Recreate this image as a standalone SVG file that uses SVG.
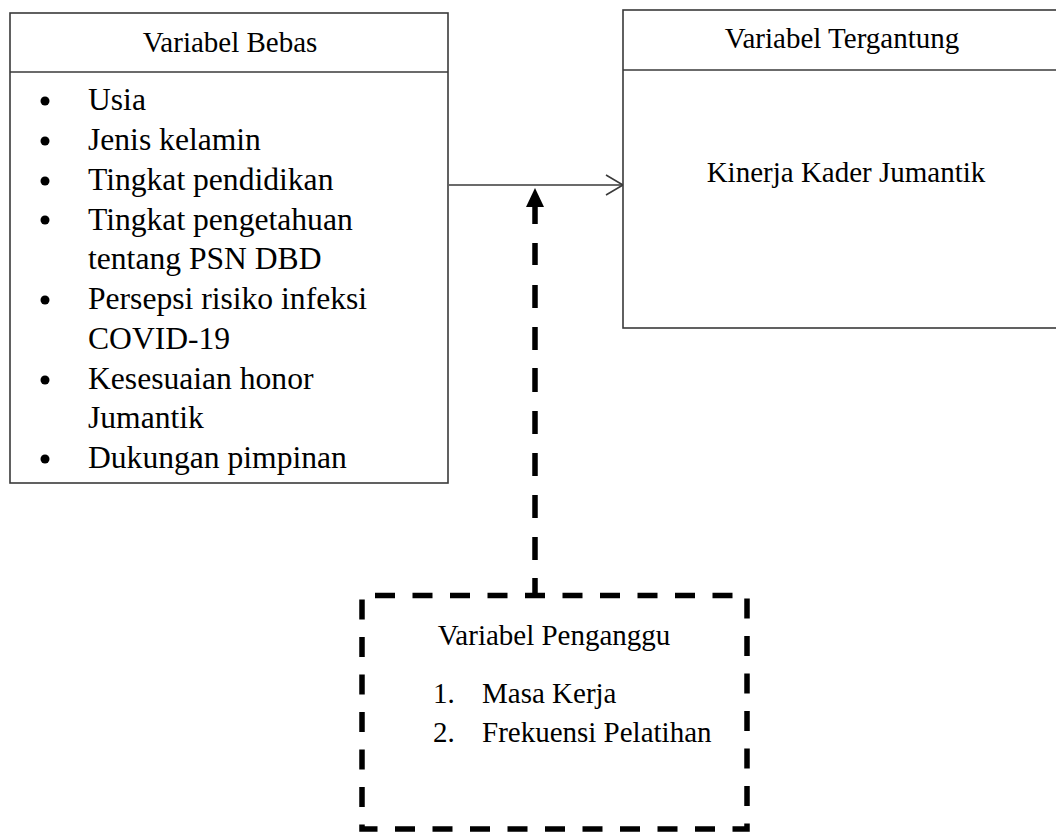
<svg xmlns="http://www.w3.org/2000/svg" width="1056" height="834" viewBox="0 0 1056 834">
<style>
.box{fill:#fff;stroke:#3a3a3a;stroke-width:1.6}
.div{stroke:#3a3a3a;stroke-width:1.6}
.t{font-family:"Liberation Serif","Times New Roman",serif;fill:#000}
.h{font-size:29px}
.i{font-size:31.6px}
.dash{fill:none;stroke:#000;stroke-width:5.5}
</style>
<rect width="1056" height="834" fill="#fff"/>
<g id="connectors">
  <path d="M449 185 H623" fill="none" stroke="#3a3a3a" stroke-width="1.6"/>
  <path d="M606 175 L623 185 L606 195" fill="none" stroke="#3a3a3a" stroke-width="1.6"/>
  <path class="dash" d="M535 207V224 M535 243V265 M535 285V308 M535 327V350 M535 368V392 M535 411V434 M535 453V476 M535 495V518 M535 537V560 M535 578V597"/>
  <polygon points="535,188 544,207 526,207" fill="#000"/>
</g>
<g id="bebas">
  <rect class="box" x="10" y="13" width="438" height="470"/>
  <line class="div" x1="10" y1="72" x2="448" y2="72"/>
  <text class="t h" x="230" y="52" text-anchor="middle">Variabel Bebas</text>
  <g fill="#000">
    <circle cx="45" cy="101" r="4.5"/>
    <circle cx="45" cy="141" r="4.5"/>
    <circle cx="45" cy="181" r="4.5"/>
    <circle cx="45" cy="220" r="4.5"/>
    <circle cx="45" cy="300" r="4.5"/>
    <circle cx="45" cy="380" r="4.5"/>
    <circle cx="45" cy="459" r="4.5"/>
  </g>
  <text class="t i" x="88" y="110">Usia</text>
  <text class="t i" x="88" y="150">Jenis kelamin</text>
  <text class="t i" x="88" y="190">Tingkat pendidikan</text>
  <text class="t i" x="88" y="229.5">Tingkat pengetahuan</text>
  <text class="t i" x="88" y="269">tentang PSN DBD</text>
  <text class="t i" x="88" y="309">Persepsi risiko infeksi</text>
  <text class="t i" x="88" y="349">COVID-19</text>
  <text class="t i" x="88" y="389">Kesesuaian honor</text>
  <text class="t i" x="88" y="428">Jumantik</text>
  <text class="t i" x="88" y="468">Dukungan pimpinan</text>
</g>
<g id="tergantung">
  <rect class="box" x="623" y="10" width="450" height="318"/>
  <line class="div" x1="623" y1="70" x2="1060" y2="70"/>
  <text class="t h" x="842" y="48" text-anchor="middle">Variabel Tergantung</text>
  <text class="t h" x="846" y="182" text-anchor="middle">Kinerja Kader Jumantik</text>
</g>
<g id="penganggu">
  <rect x="362" y="595.5" width="385" height="233.5" fill="none" stroke="#000" stroke-width="5.5" stroke-dasharray="20 17.5" stroke-dashoffset="24.5"/>
  <text class="t h" x="554" y="645" text-anchor="middle">Variabel Penganggu</text>
  <text class="t h" x="433" y="703">1.</text>
  <text class="t h" x="482" y="703">Masa Kerja</text>
  <text class="t h" x="433" y="742">2.</text>
  <text class="t h" x="482" y="742">Frekuensi Pelatihan</text>
</g>
</svg>
